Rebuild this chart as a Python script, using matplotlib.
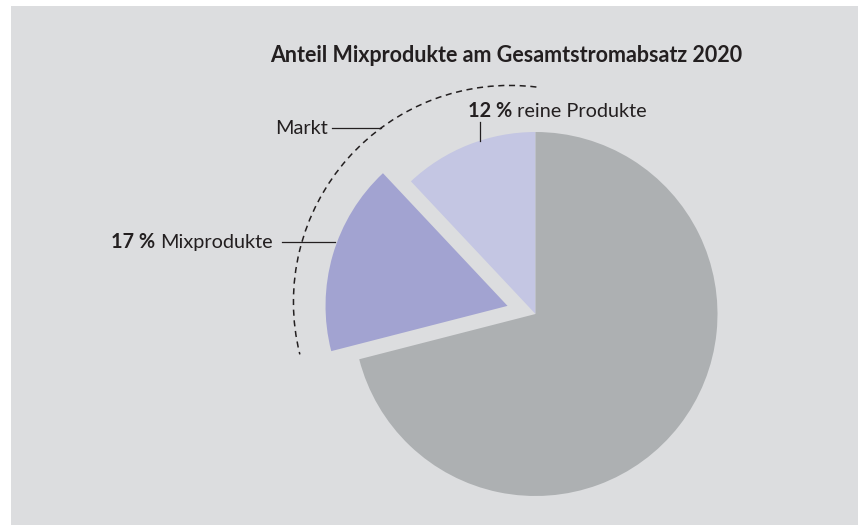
import matplotlib.pyplot as plt
from matplotlib.patches import Rectangle, Arc

# Data
labels = ['reine Produkte', 'Mixprodukte', 'Sonstige']
shares = [12, 17, 71]
colors = ['#c4c6e3', '#a2a3d1', '#adb0b2']
explode = [0, 0.16, 0]
title = 'Anteil Mixprodukte am Gesamtstromabsatz 2020'

plt.rcParams['font.family'] = ['Lato', 'DejaVu Sans']
txt_color = '#231f20'
fs = 14.3

W, H = 858, 525
R = 182.0          # pie radius in pixels
CX, CY = 535.5, 314  # pie centre in pixels


def px(x, y):
    # pixel position -> pie data coords
    return (x - CX) / R, (CY - y) / R


fig = plt.figure(figsize=(W / 100, H / 100), dpi=100)
fig.patch.set_facecolor('white')

ax = fig.add_axes([0, 0, 1, 1])
ax.set_facecolor('none')
ax.add_patch(Rectangle((11 / W, 0), 1, 1 - 6 / H, transform=ax.transAxes,
                       facecolor='#dcdddf', edgecolor='none', zorder=-5))

ax.pie(shares, colors=colors, explode=explode, startangle=90, counterclock=True,
       radius=1, center=(0, 0), wedgeprops=dict(linewidth=0))

# dashed "Markt" arc
ac = px(510, 302)
ax.add_patch(Arc(ac, 2 * 1.19, 2 * 1.19, theta1=83, theta2=194, color=txt_color,
                 lw=1.1, linestyle=(0, (4, 3))))

# title
ax.text(*px(506, 55), title, ha='center', va='center', fontsize=15.5,
        fontweight='bold', color=txt_color)

# Markt label
ax.text(*px(328, 128), 'Markt', ha='right', va='center', fontsize=fs, color=txt_color)
ax.plot(*zip(px(332, 128), px(381, 128)), color=txt_color, lw=0.9)

# 12 % reine Produkte
t1 = ax.text(*px(468, 111), f'{shares[0]} %', ha='left', va='center', fontsize=fs,
             fontweight='bold', color=txt_color)
ax.annotate(' ' + labels[0], xy=(1, 0.5), xycoords=t1, ha='left', va='center',
            fontsize=fs, color=txt_color)
ax.plot(*zip(px(480, 122), px(480, 141)), color=txt_color, lw=0.9)

# 17 % Mixprodukte
t2 = ax.text(*px(273, 242), labels[1], ha='right', va='center', fontsize=fs,
             color=txt_color)
ax.annotate(f'{shares[1]} % ', xy=(0, 0.5), xycoords=t2, ha='right', va='center',
            fontsize=fs, fontweight='bold', color=txt_color)
ax.plot(*zip(px(282, 242), px(335, 242)), color=txt_color, lw=0.9)

ax.set_xlim(px(0, 0)[0], px(W, 0)[0])
ax.set_ylim(px(0, H)[1], px(0, 0)[1])
ax.set_aspect('equal')
ax.axis('off')

fig.savefig('out.png', dpi=100)
